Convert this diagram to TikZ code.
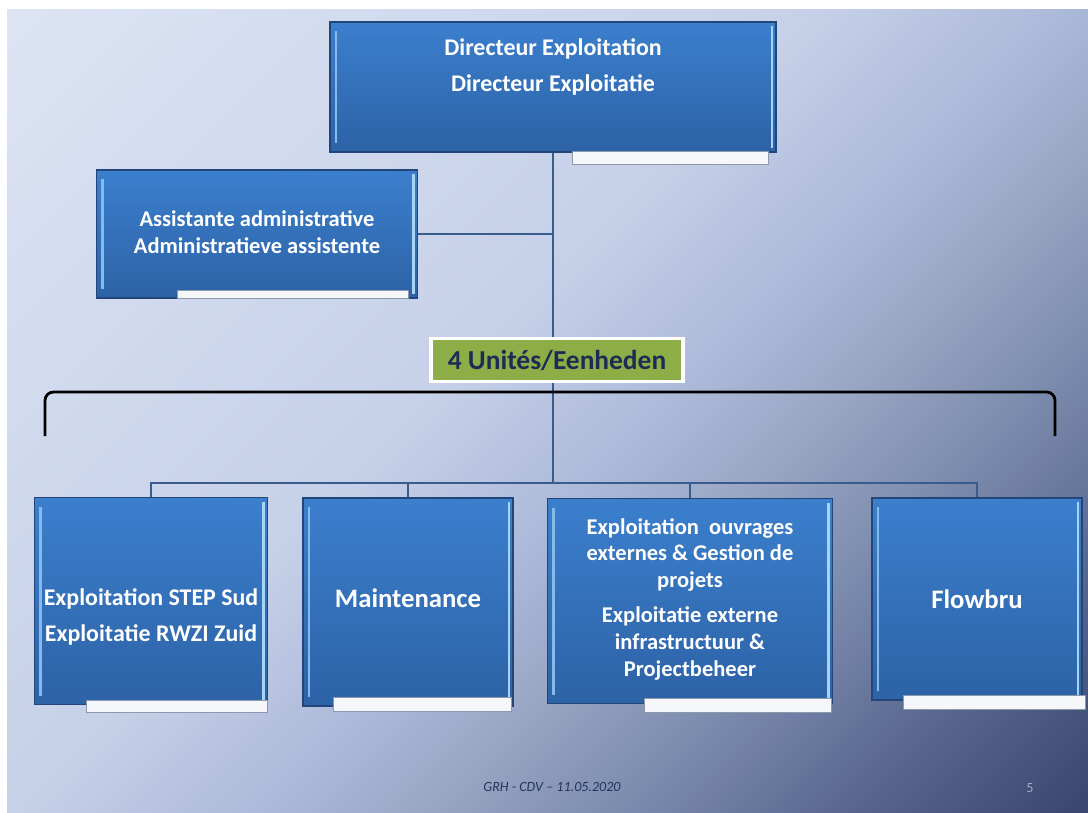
\documentclass[tikz,border=0pt]{standalone}
\usepackage{fontspec}
\setmainfont{Carlito}
\usetikzlibrary{positioning, calc}

\definecolor{bgA}{HTML}{DCE4F4}
\definecolor{bgB}{HTML}{C6D0E8}
\definecolor{bgC}{HTML}{AAB8D8}
\definecolor{bgD}{HTML}{97A4C2}
\definecolor{bgE}{HTML}{7F8FB0}
\definecolor{bgF}{HTML}{5A6890}
\definecolor{bgG}{HTML}{3A4870}
\definecolor{boxTop}{HTML}{3B7FCD}
\definecolor{boxBot}{HTML}{2D62A6}
\definecolor{boxEdge}{HTML}{23467A}
\definecolor{boxGlow}{HTML}{A6D4F6}
\definecolor{tabFill}{HTML}{F5F7FA}
\definecolor{tabEdge}{HTML}{8C98AC}
\definecolor{linkBlue}{HTML}{3A5C8C}
\definecolor{unitGreen}{HTML}{8DAE46}
\definecolor{unitText}{HTML}{1E2C55}
\definecolor{footText}{HTML}{24345C}
\definecolor{pageText}{HTML}{A2ACC4}

\pgfdeclarehorizontalshading{slidebg}{100bp}{color(0bp)=(bgA); color(15bp)=(bgA); color(45bp)=(bgB); color(55bp)=(bgC); color(61bp)=(bgD); color(67bp)=(bgE); color(76bp)=(bgF); color(85bp)=(bgG); color(100bp)=(bgG)}

\newcommand{\pxu}{0.025cm}

\begin{document}
\begin{tikzpicture}[
    x=\pxu, y=-\pxu,
    unitbox/.style={rectangle, draw=boxEdge, line width=0.9pt, top color=boxTop, bottom color=boxBot, inner sep=0pt,
        path picture={
            \draw[boxGlow!70!boxTop, line width=1.5pt]
                ($(path picture bounding box.north west)+(6,9)$) -- ($(path picture bounding box.south west)+(6,-9)$);
            \draw[boxGlow, line width=2pt]
                ($(path picture bounding box.north east)+(-4,4)$) -- ($(path picture bounding box.south east)+(-4,-4)$);
        }},
    tabbar/.style={rectangle, draw=tabEdge, line width=0.6pt, fill=tabFill, inner sep=0pt},
    boxtext/.style={text=white, align=center, inner sep=0pt, font=\bfseries\fontsize{17}{26}\selectfont},
    smalltext/.style={boxtext, font=\bfseries\fontsize{16}{19}\selectfont},
    bigtext/.style={boxtext, font=\bfseries\fontsize{19}{23}\selectfont},
    link/.style={draw=linkBlue, line width=1.5pt},
    bracketline/.style={draw=black, line width=2pt, rounded corners=6pt},
    unitlbl/.style={rectangle, fill=unitGreen, draw=white, line width=2.5pt, text=unitText, font=\bfseries\fontsize{19.5}{23}\selectfont, inner sep=0pt}
]
    % Background
    \fill[white] (0,0) rectangle (1088,812);
    \shade[shading=slidebg, shading angle=-45] (7,9) rectangle (1088,812);

    % Boxes
    \node[unitbox, minimum width=446*\pxu, minimum height=130*\pxu] (dir) at (553,87) {};
    \node[unitbox, minimum width=321*\pxu, minimum height=128*\pxu] (asst) at (257,234) {};
    \node[unitbox, minimum width=233*\pxu, minimum height=207*\pxu] (u1) at (151,601) {};
    \node[unitbox, minimum width=210*\pxu, minimum height=208*\pxu] (u2) at (408,602) {};
    \node[unitbox, minimum width=285*\pxu, minimum height=205*\pxu] (u3) at (690,601) {};
    \node[unitbox, minimum width=210*\pxu, minimum height=202*\pxu] (u4) at (977,599) {};

    % Tabs
    \node[tabbar, minimum width=196*\pxu, minimum height=13*\pxu] (dirtab) at (670,158) {};
    \node[tabbar, minimum width=231*\pxu, minimum height=8*\pxu] (assttab) at (293,294) {};
    \node[tabbar, minimum width=181*\pxu, minimum height=12*\pxu] (u1tab) at (177,706) {};
    \node[tabbar, minimum width=178*\pxu, minimum height=14*\pxu] (u2tab) at (422,704) {};
    \node[tabbar, minimum width=187*\pxu, minimum height=14*\pxu] (u3tab) at (738,705) {};
    \node[tabbar, minimum width=182*\pxu, minimum height=14*\pxu] (u4tab) at (994,702) {};

    % Texts
    \node[boxtext] (dirtxt) at (553,67) {Directeur Exploitation\\Directeur Exploitatie};
    \node[smalltext] (assttxt) at (257,232) {Assistante administrative\\Administratieve assistente};
    \node[boxtext] (u1txt) at (151,617) {Exploitation STEP Sud\\Exploitatie RWZI Zuid};
    \node[bigtext] (u2txt) at (408,598) {Maintenance};
    \node[smalltext] (u3txt) at (690,599) {Exploitation\ \ ouvrages\\externes \& Gestion de\\projets\\[6pt]Exploitatie externe\\infrastructuur \&\\Projectbeheer};
    \node[bigtext] (u4txt) at (977,599) {Flowbru};

    % Connectors
    \coordinate (bus) at (553,483);
    \draw[link] (dir.south) -- (dir.south |- bus);
    \draw[link] (asst.east) -- (asst.east -| dir.south);
    \draw[link] (u1.north) -- (u1.north |- bus) -- (u4.north |- bus) -- (u4.north);
    \draw[link] (u2.north) -- (u2.north |- bus);
    \draw[link] (u3.north) -- (u3.north |- bus);

    % Bracket
    \coordinate (brl) at (45,436);
    \coordinate (brr) at (1055,436);
    \draw[bracketline] (brl) -- ++(0,-44) -- ($(brr)+(0,-44)$) -- (brr);

    % Label
    \node[unitlbl, minimum width=252*\pxu, minimum height=43*\pxu] (units) at (557,360) {4 Unités/Eenheden};

    % Footer
    \node[text=footText, font=\itshape\fontsize{10}{12}\selectfont] (foot) at (552,787) {GRH - CDV -- 11.05.2020};
    \node[text=pageText, font=\fontsize{10}{12}\selectfont] (pnum) at (1030,788) {5};
\end{tikzpicture}
\end{document}
